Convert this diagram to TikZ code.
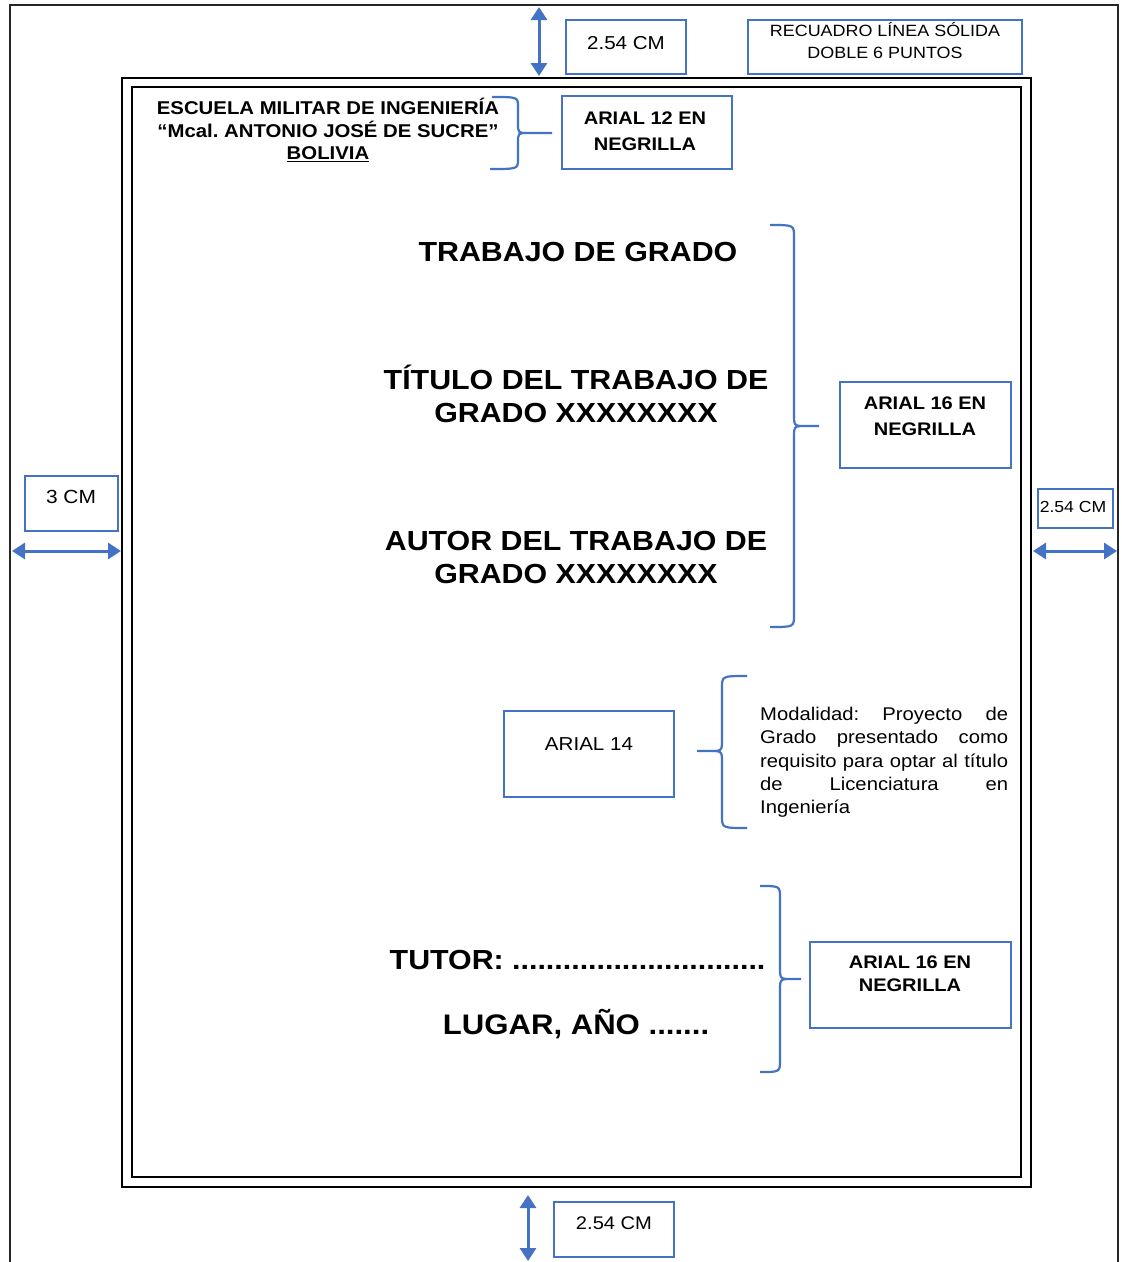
\documentclass[tikz,border=0pt]{standalone}
\usepackage{fontspec}
\setmainfont{Liberation Sans}[FakeStretch=1.1]
\usetikzlibrary{arrows.meta}
\definecolor{bl}{RGB}{68,114,196}
\frenchspacing
\begin{document}
\begin{tikzpicture}[x=1pt,y=-1pt,
  txt/.style={inner sep=0pt,text depth=0pt,align=center},
  hdr/.style={txt,font=\fontsize{18.5}{22.5}\selectfont\bfseries,text height=13.2pt},
  big/.style={txt,font=\fontsize{27.6}{33}\selectfont\bfseries,text height=19.8pt},
  bxb/.style={txt,font=\fontsize{18.2}{26}\selectfont\bfseries,text height=13pt},
  bxbb/.style={txt,font=\fontsize{18.2}{23}\selectfont\bfseries,text height=13pt},
  bxr/.style={txt,font=\fontsize{#1}{22}\selectfont,text height=0.716*#1pt},
  bbox/.style={draw=bl,line width=2.2pt,inner sep=0pt,anchor=north west},
  brc/.style={draw=bl,line width=2.2pt},
  dimarrow/.style={draw=bl,line width=3pt,{Triangle[length=13pt,width=16pt]}-{Triangle[length=13pt,width=16pt]}},
  framestyle/.style={line width=2.6pt,black}]
\useasboundingbox (0,0) rectangle (1122,1262);
\fill[white] (0,0) rectangle (1122,1262);

% page border
\draw[line width=2pt,black!85] (10,1262) -- (10,5) -- (1118,5) -- (1118,1262);
% double frame
\draw[framestyle] (122,78) rectangle (1031,1187);
\draw[framestyle] (132,87) rectangle (1021,1177);

% blue boxes
\node[bbox,minimum width=120pt,minimum height=54pt] (btop) at (565,19) {};
\node[bbox,minimum width=274pt,minimum height=54pt] (brec) at (747,19) {};
\node[bbox,minimum width=170pt,minimum height=73pt] (b12) at (561,95) {};
\node[bbox,minimum width=171pt,minimum height=86pt] (b16a) at (839,381) {};
\node[bbox,minimum width=93pt,minimum height=55pt] (bleft) at (24,475) {};
\node[bbox,minimum width=75pt,minimum height=39pt] (bright) at (1037,488) {};
\node[bbox,minimum width=170pt,minimum height=86pt] (b14) at (503,710) {};
\node[bbox,minimum width=201pt,minimum height=86pt] (b16b) at (809,941) {};
\node[bbox,minimum width=120pt,minimum height=55pt] (bbot) at (553,1201) {};

% box texts (multi-line nodes are placed by their last line)
\node[bxr=18.7] (ttop) at (626,43) {2.54 CM};
\node[bxr=16.3] (trec) at (885,53) {RECUADRO LÍNEA SÓLIDA\\DOBLE 6 PUNTOS};
\node[bxb] (t12) at (645,144) {ARIAL 12 EN\\NEGRILLA};
\node[bxb] (t16a) at (925,429) {ARIAL 16 EN\\NEGRILLA};
\node[bxr=19] (tleft) at (71,497) {3 CM};
\node[bxr=16] (tright) at (1073,507) {2.54 CM};
\node[bxr=18.7] (t14) at (589,744) {ARIAL 14};
\node[bxbb] (t16b) at (910,985) {ARIAL 16 EN\\NEGRILLA};
\node[bxr=18.3] (tbot) at (614,1223) {2.54 CM};

% header
\node[hdr] (head) at (328,153) {ESCUELA MILITAR DE INGENIERÍA\\“Mcal. ANTONIO JOSÉ DE SUCRE”\\\underline{BOLIVIA}};

% titles
\node[big] (tr) at (578,252) {TRABAJO DE GRADO};
\node[big] (tit) at (576,413) {TÍTULO DEL TRABAJO DE\\GRADO XXXXXXXX};
\node[big] (aut) at (576,574) {AUTOR DEL TRABAJO DE\\GRADO XXXXXXXX};
\node[big] (tut) at (577.5,960) {TUTOR: ..............................};
\node[big,font=\fontsize{28.3}{33}\selectfont\bfseries,text height=20.2pt] (lug) at (576,1024) {LUGAR, AÑO .......};

% modalidad paragraph
\node[inner sep=0pt,anchor=west,align=left,text height=13.2pt,text depth=0pt,
      font=\fontsize{18.4}{23.3}\selectfont] (mod) at (760,807)
  {\makebox[248pt][s]{Modalidad: Proyecto de}\\
   \makebox[248pt][s]{Grado presentado como}\\
   \makebox[248pt][s]{requisito para optar al título}\\
   \makebox[248pt][s]{de Licenciatura en}\\
   Ingeniería};

% braces
\draw[brc] (492,97) .. controls (518,97) .. (518,107) -- (518,123) .. controls (518,133) .. (528,133) -- (552,133)
           (528,133) .. controls (518,133) .. (518,143) -- (518,159) .. controls (518,169) .. (490,169);
\draw[brc] (770,225) .. controls (794,225) .. (794,237) -- (794,414) .. controls (794,426) .. (806,426) -- (819,426)
           (806,426) .. controls (794,426) .. (794,438) -- (794,615) .. controls (794,627) .. (770,627);
\draw[brc] (747,676) .. controls (722,676) .. (722,688) -- (722,739) .. controls (722,751) .. (710,751) -- (697,751)
           (710,751) .. controls (722,751) .. (722,763) -- (722,816) .. controls (722,828) .. (747,828);
\draw[brc] (760,886) .. controls (780,886) .. (780,898) -- (780,967) .. controls (780,979) .. (792,979) -- (801,979)
           (792,979) .. controls (780,979) .. (780,991) -- (780,1060) .. controls (780,1072) .. (760,1072);

% dimension arrows
\coordinate (aT1) at (539,7);   \coordinate (aT2) at (539,76);
\coordinate (aL1) at (12,551);  \coordinate (aL2) at (121,551);
\coordinate (aR1) at (1033,551);\coordinate (aR2) at (1117,551);
\coordinate (aB1) at (528,1195);\coordinate (aB2) at (528,1261);
\draw[dimarrow] (aT1) -- (aT2);
\draw[dimarrow] (aL1) -- (aL2);
\draw[dimarrow] (aR1) -- (aR2);
\draw[dimarrow] (aB1) -- (aB2);
\end{tikzpicture}
\end{document}
